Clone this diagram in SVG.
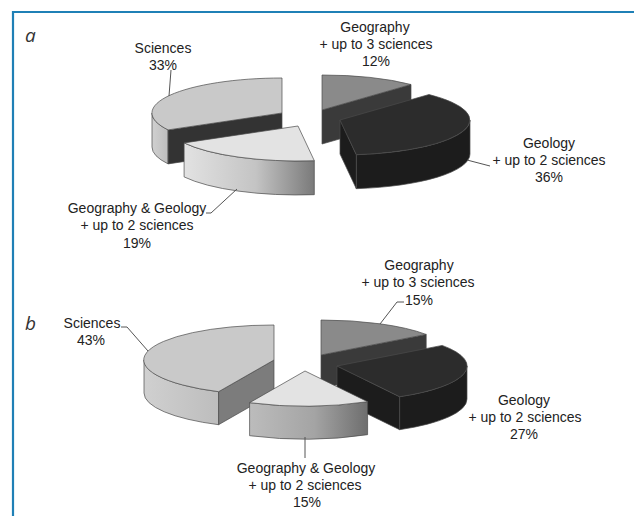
<svg xmlns="http://www.w3.org/2000/svg" width="634" height="516" viewBox="0 0 634 516">
<defs>
<style>
.edge{stroke:#4a4a4a;stroke-width:0.7;stroke-linejoin:round}
.lbl{font-family:"Liberation Sans",Arial,sans-serif;font-size:14px;fill:#222;text-anchor:middle}
.tag{font-family:"Open Sans","DejaVu Sans",sans-serif;font-style:italic;font-size:19px;fill:#333}
.lead{fill:none;stroke:#555;stroke-width:1}
.sci-top{fill:#c9c9c9}
.sci-wall{fill:url(#gSci)}
.geo-top{fill:#8a8a8a}
.geo-wall{fill:#3a3a3a}
.gel-top{fill:#2c2c2c}
.gel-wall{fill:#1c1c1c}
.gg-top{fill:#e3e3e3}
</style>
<linearGradient id="gSci" x1="0" y1="0" x2="1" y2="0">
<stop offset="0" stop-color="#d0d0d0"/><stop offset="1" stop-color="#bdbdbd"/>
</linearGradient>
<linearGradient id="gGGa" x1="0" y1="0" x2="1" y2="0">
<stop offset="0" stop-color="#e2e2e2"/><stop offset="0.55" stop-color="#c4c4c4"/><stop offset="1" stop-color="#7a7a7a"/>
</linearGradient>
<linearGradient id="gGGb" x1="0" y1="0" x2="1" y2="0">
<stop offset="0" stop-color="#bcbcbc"/><stop offset="0.55" stop-color="#a4a4a4"/><stop offset="1" stop-color="#6e6e6e"/>
</linearGradient>
</defs>

<g id="frame">
<line x1="13" y1="12" x2="634" y2="12" stroke="#1f80b6" stroke-width="2.2"/>
<line x1="13" y1="11" x2="13" y2="516" stroke="#1f80b6" stroke-width="2.2"/>
</g>

<text class="tag" x="25" y="42">a</text>
<text class="tag" x="25" y="330">b</text>

<!-- Chart a -->
<g id="a-sciences">
<path class="edge sci-wall" d="M168.1,129.9 A130,35 0 0 1 152,113 L152,147 A130,35 0 0 0 168.1,163.9 Z"/>
<path class="edge" fill="#333" d="M282,113 L168.1,129.9 L168.1,163.9 L282,147 Z"/>
<path class="edge sci-top" d="M282,113 L168.1,129.9 A130,35 0 0 1 282,78 Z"/>
</g>
<g id="a-geography">
<path class="edge geo-wall" d="M322,110 L411,84.5 L411,118.5 L322,144 Z"/>
<path class="edge geo-top" d="M322,110 L322,75 A130,35 0 0 1 411,84.5 Z"/>
</g>
<g id="a-geology">
<path class="edge gel-wall" d="M470,120 A130,35 0 0 1 356.3,154.7 L356.3,188.7 A130,35 0 0 0 470,154 Z"/>
<path class="edge gel-wall" d="M340,120 L356.3,154.7 L356.3,188.7 L340,154 Z"/>
<path class="edge gel-top" d="M340,120 L429,94.5 A130,35 0 0 1 356.3,154.7 Z"/>
</g>
<g id="a-geogeol">
<path class="edge" fill="url(#gGGa)" d="M314.3,160.7 A130,35 0 0 1 184.1,142.9 L184.1,176.9 A130,35 0 0 0 314.3,194.7 Z"/>
<path class="edge gg-top" d="M298,126 L314.3,160.7 A130,35 0 0 1 184.1,142.9 Z"/>
</g>

<!-- Chart b -->
<g id="b-sciences">
<path class="edge sci-wall" d="M218.6,391.7 A130,35 0 0 1 144,360 L144,393 A130,35 0 0 0 218.6,424.7 Z"/>
<path class="edge" fill="#7c7c7c" d="M274,360 L218.6,391.7 L218.6,424.7 L274,393 Z"/>
<path class="edge sci-top" d="M274,360 L218.6,391.7 A130,35 0 0 1 274,325 Z"/>
</g>
<g id="b-geography">
<path class="edge geo-wall" d="M321,355 L426.2,334.4 L426.2,367.4 L321,388 Z"/>
<path class="edge geo-top" d="M321,355 L321,320 A130,35 0 0 1 426.2,334.4 Z"/>
</g>
<g id="b-geology">
<path class="edge gel-wall" d="M467,366 A130,35 0 0 1 399.6,396.7 L399.6,429.7 A130,35 0 0 0 467,399 Z"/>
<path class="edge gel-wall" d="M337,366 L399.6,396.7 L399.6,429.7 L337,399 Z"/>
<path class="edge gel-top" d="M337,366 L442.2,345.4 A130,35 0 0 1 399.6,396.7 Z"/>
</g>
<g id="b-geogeol">
<path class="edge" fill="url(#gGGb)" d="M367.6,401.7 A130,35 0 0 1 249.6,402.7 L249.6,435.7 A130,35 0 0 0 367.6,434.7 Z"/>
<path class="edge gg-top" d="M305,371 L367.6,401.7 A130,35 0 0 1 249.6,402.7 Z"/>
</g>

<g id="connectors">
<polyline class="lead" points="171,70 169,96"/>
<polyline class="lead" points="467,160 490,166"/>
<polyline class="lead" points="206,213 211,213 237,189"/>
<polyline class="lead" points="121,327 127,327 148,351"/>
<polyline class="lead" points="404,302 397,302 380,324"/>
<polyline class="lead" points="305,437 305,458"/>
</g>

<g id="labels">
<text class="lbl" x="163" y="53">Sciences</text>
<text class="lbl" x="163" y="70">33%</text>
<text class="lbl" x="375" y="32">Geography</text>
<text class="lbl" x="376" y="49">+ up to 3 sciences</text>
<text class="lbl" x="376" y="66">12%</text>
<text class="lbl" x="549" y="148">Geology</text>
<text class="lbl" x="549" y="165">+ up to 2 sciences</text>
<text class="lbl" x="549" y="182">36%</text>
<text class="lbl" x="137" y="213">Geography &amp; Geology</text>
<text class="lbl" x="137" y="230">+ up to 2 sciences</text>
<text class="lbl" x="137" y="248">19%</text>

<text class="lbl" x="92" y="328">Sciences</text>
<text class="lbl" x="91" y="345">43%</text>
<text class="lbl" x="419" y="270">Geography</text>
<text class="lbl" x="418" y="287">+ up to 3 sciences</text>
<text class="lbl" x="419" y="305">15%</text>
<text class="lbl" x="524" y="405">Geology</text>
<text class="lbl" x="525" y="422">+ up to 2 sciences</text>
<text class="lbl" x="524" y="439">27%</text>
<text class="lbl" x="306" y="473">Geography &amp; Geology</text>
<text class="lbl" x="305" y="490">+ up to 2 sciences</text>
<text class="lbl" x="307" y="507">15%</text>
</g>
</svg>
